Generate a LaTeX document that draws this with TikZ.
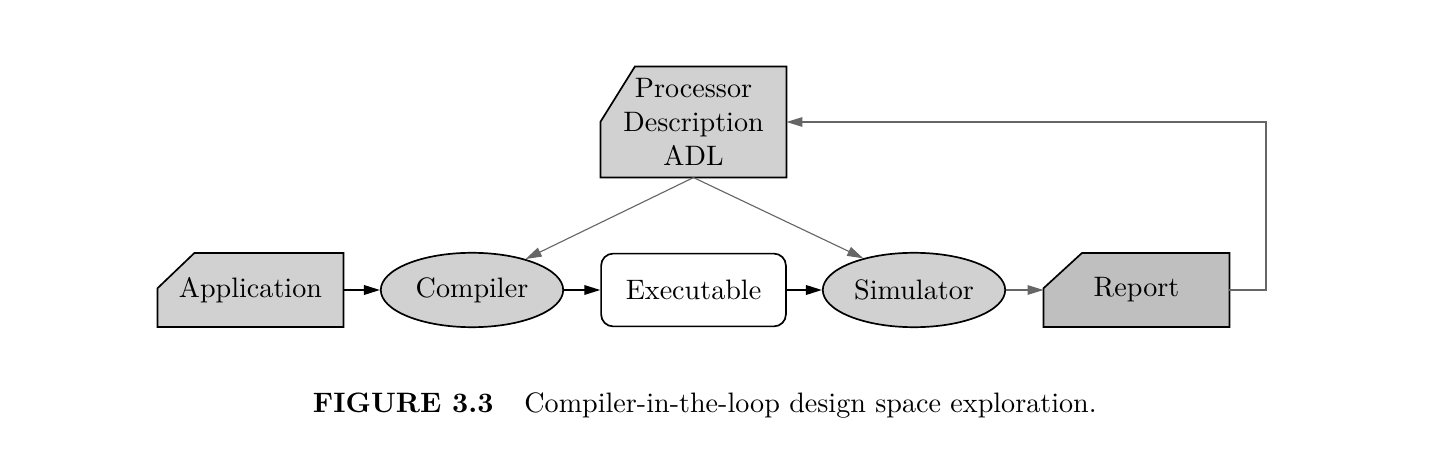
\documentclass[tikz,border=0pt]{standalone}
\usepackage{amsmath}
\usepackage{xcolor}
\usetikzlibrary{shapes.geometric,arrows.meta,backgrounds}
\definecolor{boxgray}{gray}{0.82}
\definecolor{repgray}{gray}{0.75}
\definecolor{linegray}{gray}{0.4}
% box with cut top-left corner, drawn behind node #1
\newcommand{\cutbox}[4]{%
  \begin{pgfonlayer}{background}
    \draw[semithick,fill=#2] (#1.south west) -- ([yshift=-#4]#1.north west)
      -- ([xshift=#3]#1.north west) -- (#1.north east) -- (#1.south east) -- cycle;
  \end{pgfonlayer}}
\begin{document}
\begin{tikzpicture}[
    docbox/.style={rectangle,minimum width=2.31cm,minimum height=0.91cm,inner sep=0pt},
    tool/.style={ellipse,semithick,draw=black,fill=boxgray,minimum width=2.28cm,minimum height=0.93cm,inner sep=0pt},
    filebox/.style={rectangle,semithick,rounded corners=0.15cm,draw=black,fill=white,minimum width=2.31cm,minimum height=0.91cm},
    flow/.style={-{Triangle[length=0.2cm,width=0.12cm]},semithick},
    feed/.style={flow,thin,draw=linegray}]
    \useasboundingbox (0,0) rectangle (18,5.625);
    % chain
    \node[docbox] (app) at (3.131,2.0) {Application};
    \node[tool] (comp) at (5.9,2.0) {Compiler};
    \node[filebox] (exe) at (8.669,2.0) {Executable};
    \node[tool] (sim) at (11.425,2.0) {Simulator};
    \node[docbox] (rep) at (14.206,2.0) {Report};
    \node[docbox,minimum height=1.375cm,align=center] (proc) at (8.669,4.1)
          {Processor\\Description\\ADL};
    \cutbox{app}{boxgray}{0.46cm}{0.44cm}
    \cutbox{rep}{repgray}{0.48cm}{0.44cm}
    \cutbox{proc}{boxgray}{0.43cm}{0.69cm}
    \coordinate (turn) at (15.825,2.0);
    \draw[flow] (app) -- (comp);
    \draw[flow] (comp) -- (exe);
    \draw[flow] (exe) -- (sim);
    \draw[feed] (sim) -- (rep);
    \draw[feed] (proc.south) -- (comp.30);
    \draw[feed] (proc.south) -- (sim.148);
    \draw[feed] (rep.east) -- (turn) |- (proc.east);
    % caption
    \node (cap) at (8.81,0.5625) {\textbf{FIGURE 3.3}\hspace{1.1em}Compiler-in-the-loop design space exploration.};
\end{tikzpicture}
\end{document}
